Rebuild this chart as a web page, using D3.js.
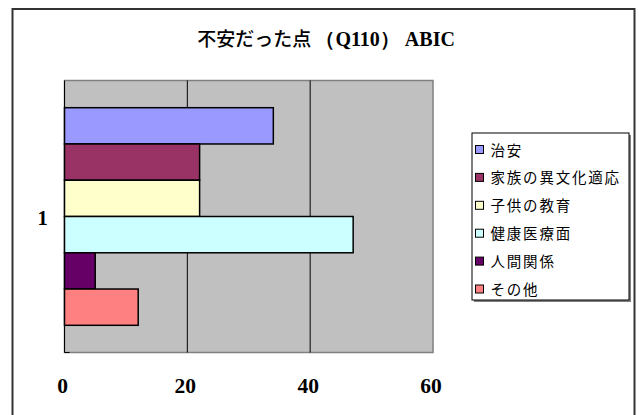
<!DOCTYPE html>
<html><head><meta charset="utf-8">
<script src="https://cdn.jsdelivr.net/npm/d3@7"></script>
<style>body{margin:0;background:#fff}</style>
</head><body>
<svg id="c" width="639" height="415"></svg>
<script>
const titleParts = [["不安だった点 ","jp"],["（Q110） ABIC","latin"]];
const categories = ["1"];
const seriesNames = ["治安","家族の異文化適応","子供の教育","健康医療面","人間関係","その他"];
const seriesValues = [34, 22, 22, 47, 5, 12];
const seriesColors = ["#9999FF","#993366","#FFFFCC","#CCFFFF","#660066","#FF8080"];
const xTicks = [0, 20, 40, 60];

const svg = d3.select("#c");
const latin = "'Liberation Serif','Times New Roman',serif";
const jp = "'Noto Sans CJK JP','Noto Sans',sans-serif";

// outer frame
svg.append("rect").attr("x",12.5).attr("y",9).attr("width",622).attr("height",420)
  .attr("fill","#fff").attr("stroke","#333").attr("stroke-width",2);

// title
const tt = svg.append("text").attr("x",326).attr("y",46).attr("text-anchor","middle");
tt.selectAll("tspan").data(titleParts).join("tspan")
  .attr("font-family",d=>d[1]==="jp"?jp:latin)
  .attr("font-size",d=>d[1]==="jp"?19:20)
  .attr("font-weight",d=>d[1]==="jp"?"500":"bold")
  .text(d=>d[0]);

const L = 64.5, R = 433, T = 80.5, B = 352.5;
const x = d3.scaleLinear().domain([0,60]).range([L,R]);
const yCat = d3.scaleBand().domain(categories).range([T,B]).paddingInner(0).paddingOuter(0);
// gap width 150%: 0.75 bar-width of padding on each side of the group
const inner = d3.scaleBand().domain(seriesNames)
  .range([0, yCat.bandwidth()]).paddingInner(0).paddingOuter(0.75);

// plot area
svg.append("rect").attr("x",L).attr("y",T).attr("width",R-L).attr("height",B-T)
  .attr("fill","#C0C0C0").attr("stroke","#808080").attr("stroke-width",1.5);

// gridlines
svg.append("g").selectAll("line").data(xTicks.filter(d=>d>0 && d<60)).join("line")
  .attr("x1",d=>x(d)).attr("x2",d=>x(d)).attr("y1",T).attr("y2",B)
  .attr("stroke","#000").attr("stroke-width",1);

// category axis line
svg.append("line").attr("x1",L).attr("x2",L).attr("y1",T).attr("y2",B)
  .attr("stroke","#000").attr("stroke-width",1);
svg.append("line").attr("x1",L).attr("x2",L+5).attr("y1",B).attr("y2",B)
  .attr("stroke","#000").attr("stroke-width",1);

// bars
categories.forEach(cat => {
  svg.append("g").selectAll("rect").data(seriesNames).join("rect")
    .attr("x", x(0))
    .attr("y", d => yCat(cat) + inner(d))
    .attr("width", (d,i)=> x(seriesValues[i]) - x(0))
    .attr("height", inner.bandwidth())
    .attr("fill", (d,i)=>seriesColors[i])
    .attr("stroke","#000").attr("stroke-width",1.5);
});

// category label
svg.append("g").selectAll("text").data(categories).join("text")
  .attr("x",42.5).attr("y",d=>yCat(d)+yCat.bandwidth()/2+8.5).attr("text-anchor","middle")
  .attr("font-family",latin).attr("font-size",20.5).attr("font-weight","bold").text(d=>d);

// x axis labels
const xAxis = d3.axisBottom(x).tickValues(xTicks).tickSize(0).tickPadding(0);
const gx = svg.append("g").attr("transform",`translate(-2.5,${B})`).call(xAxis);
gx.select(".domain").remove();
gx.selectAll("text").attr("y",40).attr("dy",0)
  .attr("font-family",latin).attr("font-size",21.5).attr("font-weight","bold").attr("fill","#000");

// legend
const lgX = 472, lgY = 133, lgW = 157, lgH = 167;
svg.append("rect").attr("x",lgX+2).attr("y",lgY+2).attr("width",lgW).attr("height",lgH)
  .attr("fill","#808080");
svg.append("rect").attr("x",lgX).attr("y",lgY).attr("width",lgW).attr("height",lgH)
  .attr("fill","#fff").attr("stroke","#000").attr("stroke-width",1);
const rowY = d3.scalePoint().domain(seriesNames).range([150, 289.5]);
const lg = svg.append("g");
lg.selectAll("rect").data(seriesNames).join("rect")
  .attr("x",475.5).attr("y",d=>rowY(d)-4.5).attr("width",8).attr("height",8)
  .attr("fill",(d,i)=>seriesColors[i]).attr("stroke","#000").attr("stroke-width",1);
lg.selectAll("text").data(seriesNames).join("text")
  .attr("x",490.5).attr("y",d=>rowY(d)+5.5)
  .attr("font-family",jp).attr("font-size",14.5).attr("letter-spacing",1.8).attr("fill","#000").text(d=>d);
</script>
</body></html>
